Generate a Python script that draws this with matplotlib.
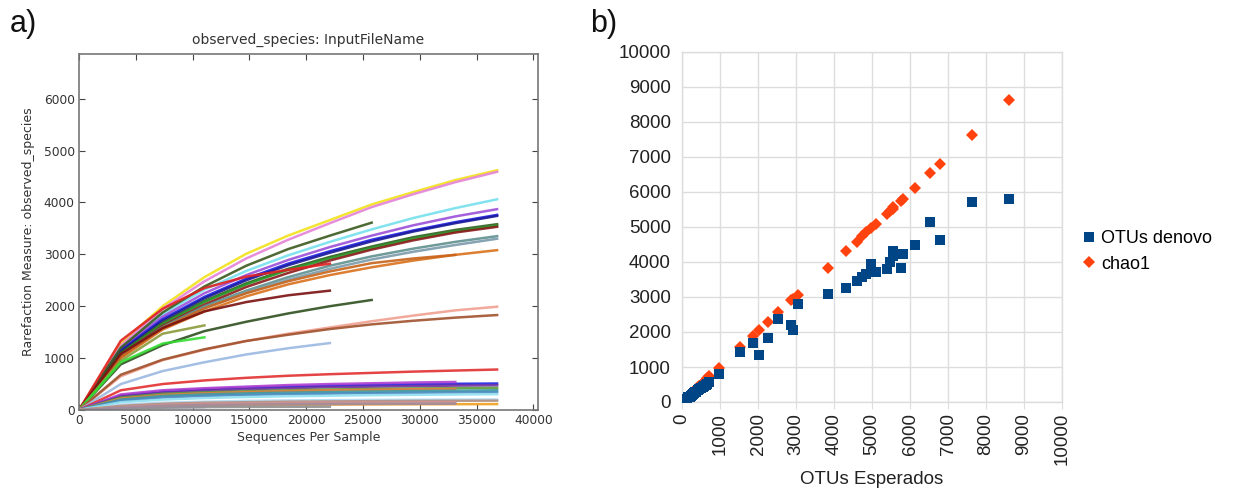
import matplotlib
matplotlib.use("Agg")
import matplotlib.pyplot as plt
import numpy as np

# ---------------- Panel a data: rarefaction curves ----------------
depths = [0, 3680, 7360, 11040, 14720, 18400, 22080, 25760, 29440, 33120, 36800]

curve_colors = [
    '#f2e21a', '#e582d8', '#74e0ee', '#9b4fd8', '#1d1de0', '#1a1a9a',
    '#2e5e1e', '#2a9a2a', '#8b1a1a', '#5f8f8f', '#7a9aaa', '#d9711c',
    '#c8641a', '#3b5a1e', '#e02020', '#7a1010', '#2f4f1f', '#8a9a3a',
    '#33dd33', '#f0a090', '#a0522d', '#9ab8e0', '#e33030', '#2020e0',
    '#b040d0', '#7030a0', '#5a9a3a', '#e08040', '#3a9aa0', '#4a8ac0',
    '#90e0f0', '#b0d8f0', '#b09080', '#d09090', '#f0a020', '#f0d020',
    '#c0b0e0', '#909090', '#a08aa0',
]
curve_values = [
    [0, 1280, 2000, 2560, 3010, 3360, 3660, 3960, 4200, 4430, 4620],
    [0, 1240, 1950, 2480, 2920, 3280, 3600, 3910, 4160, 4390, 4590],
    [0, 1200, 1850, 2320, 2680, 2980, 3240, 3480, 3700, 3890, 4060],
    [0, 1180, 1800, 2250, 2600, 2890, 3140, 3360, 3560, 3730, 3870],
    [0, 1150, 1750, 2180, 2530, 2820, 3060, 3280, 3460, 3620, 3760],
    [0, 1130, 1720, 2150, 2500, 2790, 3030, 3250, 3440, 3600, 3740],
    [0, 1100, 1680, 2100, 2440, 2720, 2950, 3150, 3330, 3470, 3580],
    [0, 1080, 1650, 2080, 2420, 2700, 2920, 3120, 3300, 3440, 3550],
    [0, 1060, 1620, 2030, 2370, 2640, 2880, 3090, 3270, 3420, 3530],
    [0, 1050, 1600, 2000, 2300, 2560, 2780, 2960, 3110, 3240, 3350],
    [0, 1030, 1570, 1960, 2260, 2510, 2720, 2900, 3050, 3180, 3300],
    [0, 1000, 1550, 1900, 2190, 2420, 2600, 2750, 2880, 2990, 3080],
    [0, 1020, 1580, 1960, 2250, 2480, 2670, 2830, 2920, 2990],
    [0, 1200, 1880, 2380, 2780, 3100, 3360, 3610],
    [0, 1335, 1950, 2350, 2570, 2700, 2820],
    [0, 1080, 1580, 1900, 2080, 2210, 2300],
    [0, 880, 1250, 1520, 1700, 1860, 2000, 2120],
    [0, 950, 1470, 1630],
    [0, 920, 1280, 1400],
    [0, 650, 960, 1160, 1330, 1470, 1590, 1710, 1820, 1920, 1990],
    [0, 680, 970, 1170, 1330, 1450, 1560, 1650, 1720, 1780, 1830],
    [0, 500, 750, 920, 1070, 1190, 1290],
    [0, 380, 500, 570, 620, 660, 690, 715, 740, 760, 780],
    [0, 280, 360, 400, 430, 450, 470, 485, 495, 505, 510],
    [0, 300, 380, 420, 450, 480, 500, 515, 530, 540],
    [0, 260, 330, 370, 400, 420, 440, 450, 460, 470, 475],
    [0, 240, 310, 340, 360, 380, 395, 405, 415, 420, 425],
    [0, 220, 290, 320, 345, 365, 380, 390, 400, 405],
    [0, 200, 270, 300, 320, 335, 345, 355, 365, 372, 380],
    [0, 180, 240, 270, 290, 305, 315, 325, 332, 338, 345],
    [0, 150, 200, 230, 250, 265, 275, 285, 292, 298, 305],
    [0, 100, 140, 160, 175, 185, 190, 195, 198, 200, 202],
    [0, 80, 120, 140, 150, 160, 165, 170, 175, 178, 180],
    [0, 60, 100, 120, 130, 140, 145, 148, 150, 152],
    [0, 40, 70, 85, 95, 100, 105, 108, 110, 112, 114],
    [0, 40, 55],
    [0, 30, 45, 55],
    [0, 30, 45, 55, 60, 62, 64],
    [0, 50, 80, 95, 105, 110, 115, 118, 120, 122],
]

# ---------------- Panel b data ----------------
otus_esperados = [50, 80, 110, 140, 170, 200, 230, 260, 290, 320,
                  350, 380, 420, 460, 500, 540, 580, 620, 660, 720,
                  970, 1530, 1860, 2030, 2270, 2530, 2880, 2920, 3040, 3850,
                  4320, 4600, 4740, 4840, 4980, 5100, 5400, 5470, 5540, 5560,
                  5770, 5820, 6120, 6530, 6800, 7620, 8600]
otus_denovo = [30, 50, 70, 100, 130, 150, 170, 200, 230, 260,
               280, 300, 330, 360, 390, 420, 450, 490, 520, 570,
               800, 1440, 1690, 1340, 1840, 2360, 2190, 2060, 2800, 3090,
               3250, 3470, 3580, 3660, 3930, 3720, 3800, 4010, 4160, 4320,
               3840, 4220, 4490, 5130, 4630, 5710, 5800]
chao1 = [50, 80, 110, 140, 170, 200, 230, 260, 290, 320,
         350, 380, 420, 460, 500, 540, 580, 620, 680, 740,
         980, 1580, 1890, 2060, 2290, 2580, 2910, 2950, 3060, 3840,
         4310, 4580, 4750, 4850, 4960, 5090, 5370, 5450, 5500, 5560,
         5730, 5800, 6120, 6540, 6810, 7630, 8620]
b_ticks = list(range(0, 10001, 1000))
a_xticks = list(range(0, 40001, 5000))
a_yticks = list(range(0, 6001, 1000))

W, H = 1233, 492
fig = plt.figure(figsize=(W / 100, H / 100), dpi=100)

# ---------------- Panel a ----------------
axa = fig.add_axes([79 / W, 1 - 410 / H, 459 / W, 356 / H])
for col, vals in zip(curve_colors, curve_values):
    axa.plot(depths[:len(vals)], vals, color=col, lw=1.8, alpha=0.9,
             solid_joinstyle='round')
axa.set_xlim(0, 40400)
axa.set_ylim(0, 6860)
axa.set_xticks(a_xticks)
axa.set_yticks(a_yticks)
axa.tick_params(direction='in', top=True, right=True, length=4,
                labelsize=8.8, colors='#444444', labelcolor='#333333', pad=3)
for s in axa.spines.values():
    s.set_color('#777777')
    s.set_linewidth(1.2)
axa.set_title('observed_species: InputFileName', fontsize=10, color='#333333', pad=7)
axa.set_xlabel('Sequences Per Sample', fontsize=9, color='#333333', labelpad=3)
axa.set_ylabel('Rarefaction Measure: observed_species', fontsize=9,
               color='#333333', labelpad=6)

# ---------------- Panel b ----------------
axb = fig.add_axes([682 / W, 1 - 402 / H, 380 / W, 350 / H])
axb.plot(otus_esperados, chao1, linestyle='none', marker='D', markersize=6,
         color='#ff420e', markeredgewidth=0, label='chao1', zorder=3)
axb.plot(otus_esperados, otus_denovo, linestyle='none', marker='s', markersize=7.5,
         color='#004586', markeredgewidth=0, label='OTUs denovo', zorder=4)
axb.set_xlim(0, 10000)
axb.set_ylim(0, 10000)
axb.set_xticks(b_ticks)
axb.set_yticks(b_ticks)
axb.grid(True, color='#dddddd', lw=1)
axb.set_axisbelow(True)
for s in axb.spines.values():
    s.set_color('#dddddd')
    s.set_linewidth(1)
axb.tick_params(axis='both', length=0, labelsize=13.5, labelcolor='#222222', pad=8)
axb.tick_params(axis='x', length=5, color='#dddddd', pad=3)
for lab in axb.get_xticklabels():
    lab.set_rotation(90)
    lab.set_fontfamily('Liberation Sans')
for lab in axb.get_yticklabels():
    lab.set_fontfamily('Liberation Sans')
axb.set_xlabel('OTUs Esperados', fontsize=13.5, family='Liberation Sans',
               color='#222222', labelpad=4)
handles, labels = axb.get_legend_handles_labels()
leg = axb.legend(handles[::-1], labels[::-1], loc='center left',
                 bbox_to_anchor=(1.055, 0.43), frameon=False,
                 prop={'family': 'Liberation Sans', 'size': 13},
                 handlelength=0.7, handletextpad=0.3, borderpad=0,
                 borderaxespad=0, labelspacing=0.45)

fig.text(10 / W, 1 - 24 / H, 'a)', fontsize=22, family='Liberation Sans',
         va='center', ha='left', color='#111111')
fig.text(590 / W, 1 - 24 / H, 'b)', fontsize=22, family='Liberation Sans',
         va='center', ha='left', color='#111111')

fig.savefig('out.png', dpi=100)
